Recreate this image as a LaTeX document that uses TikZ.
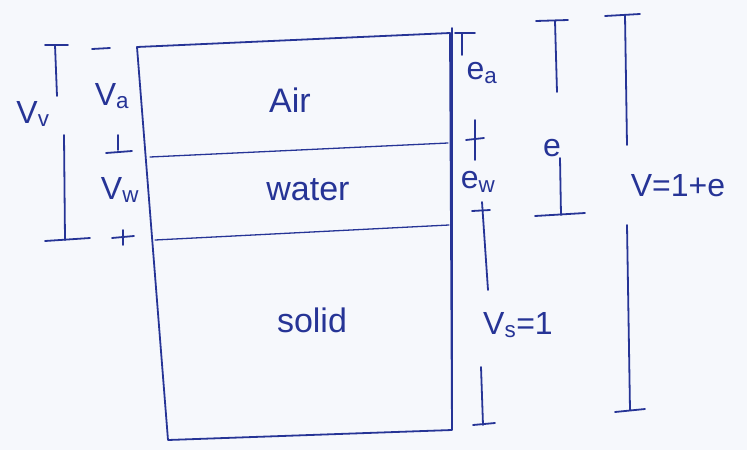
\documentclass[tikz,border=0pt]{standalone}
\usepackage{fontspec}
\setmainfont{Liberation Sans}
\definecolor{ink}{RGB}{38,52,150}
\definecolor{paper}{RGB}{246,248,252}
\begin{document}
\begin{tikzpicture}[x=1pt,y=-1pt,
  pen/.style={draw=ink,line width=1.8pt,line cap=round,line join=round},
  thin pen/.style={draw=ink,line width=1.3pt,line cap=round},
  phase/.style={text=ink,font=\fontsize{34}{36}\selectfont,inner sep=1pt},
  lab/.style={text=ink,font=\fontsize{32}{34}\selectfont,inner sep=1pt}]
\fill[paper] (0,0) rectangle (747,450);
\useasboundingbox (0,0) rectangle (747,450);
% box
\coordinate (TL) at (137,47);
\coordinate (TR) at (450,33);
\coordinate (BR) at (452,430);
\coordinate (BL) at (168,440);
\draw[pen] (TL) -- (TR) -- (BR) -- (BL) -- cycle;
\coordinate (AWl) at (150,157);
\coordinate (AWr) at (448,143);
\coordinate (WSl) at (155,240);
\coordinate (WSr) at (449,225);
\draw[thin pen] (AWl) -- (AWr);
\draw[thin pen] (WSl) -- (WSr);
% phase names
\node[phase] (air) at (290,100) {Air};
\node[phase] (water) at (308,190) {water};
\node[phase] (solid) at (312,320) {solid};
% left dimensions: Vv
\node[lab] (Vv) at (33,114) {V\textsubscript{v}};
\coordinate (vvt) at (55,45);
\coordinate (vvb) at (65,240);
\draw[pen] (45,45) -- (68,45);
\draw[pen] (vvt) -- (57,96);
\draw[pen] (64,135) -- (vvb);
\draw[pen] (45,241) -- (90,238);
% Va
\node[lab] (Va) at (112,96) {V\textsubscript{a}};
\draw[pen] (92,49) -- (110,48);
\draw[pen] (118,135) -- (118,150);
\draw[pen] (106,153) -- (132,151);
% Vw
\node[lab] (Vw) at (120,190) {V\textsubscript{w}};
\draw[pen] (112,238) -- (134,236);
\draw[pen] (123,230) -- (123,245);
% right inner dimensions
\draw[pen] (452,28) -- (452,423);
\node[lab] (ea) at (482,73) {e\textsubscript{a}};
\draw[pen] (455,33) -- (475,33);
\draw[pen] (462,33) -- (462,55);
\draw[pen] (466,140) -- (484,138);
\draw[pen] (475,120) -- (475,160);
\node[lab] (ew) at (478,182) {e\textsubscript{w}};
\draw[pen] (472,211) -- (490,210);
\coordinate (vst) at (482,202);
\draw[pen] (vst) -- (488,290);
\node[lab] (Vs) at (518,325) {V\textsubscript{s}=1};
\draw[pen] (481,367) -- (483,425);
\draw[pen] (473,425) -- (495,423);
% e
\node[lab] (e) at (552,148) {e};
\draw[pen] (536,21) -- (568,20);
\draw[pen] (555,21) -- (557,92);
\draw[pen] (560,158) -- (561,215);
\draw[pen] (535,216) -- (585,213);
% V = 1+e
\node[lab] (V) at (678,186) {V=1+e};
\draw[pen] (605,16) -- (640,14);
\draw[pen] (625,15) -- (627,145);
\draw[pen] (627,225) -- (630,410);
\draw[pen] (615,412) -- (645,409);
\end{tikzpicture}
\end{document}
